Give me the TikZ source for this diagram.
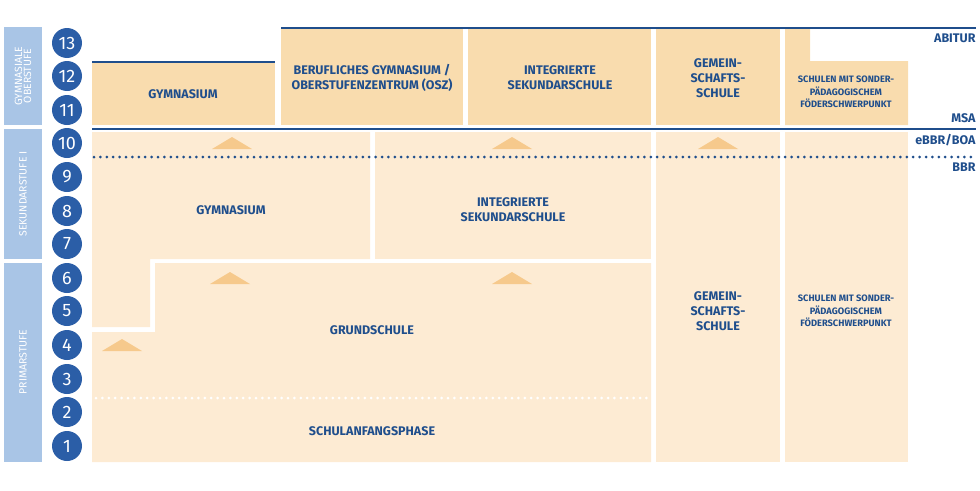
\documentclass[tikz,border=0pt]{standalone}
\usepackage{fontspec}
\setmainfont{Fira Sans}
\definecolor{dblue}{HTML}{1F4E8C}
\definecolor{cblue}{HTML}{2B5EA7}
\definecolor{sblue}{HTML}{A9C5E6}
\definecolor{darkbox}{HTML}{F9DCAE}
\definecolor{lightbox}{HTML}{FDEBD3}
\definecolor{tri}{HTML}{F6C98C}
\begin{document}
\begin{tikzpicture}[x=1pt,y=-1pt,
  lbl/.style={font=\bfseries\fontsize{12.5}{15}\selectfont,text=dblue,align=center},
  slbl/.style={font=\bfseries\fontsize{9.3}{12.5}\selectfont,text=dblue,align=center},
  rlbl/.style={font=\bfseries\fontsize{12.5}{15}\selectfont,text=dblue,anchor=east},
  side/.style={font=\fontsize{10.5}{11}\selectfont,text=white,align=center,rotate=90},
  num/.style={circle,fill=cblue,minimum size=30pt,inner sep=0pt,text=white,font=\fontsize{18}{18}\selectfont},
  trimark/.style={fill=tri},
  bline/.style={dblue,line width=2pt},
  dotline/.style={line width=3pt,line cap=round,dash pattern=on 0pt off 6.4pt}]
\useasboundingbox (0,0) rectangle (980,490);
% sidebar
\fill[sblue] (4,27) rectangle (42,125);
\fill[sblue] (4,129) rectangle (42,259);
\fill[sblue] (4,263) rectangle (42,462);
\node[side] (s1) at (23,76) {GYMNASIALE\\[-2pt]OBERSTUFE};
\node[side] (s2) at (23,194) {SEKUNDARSTUFE I};
\node[side] (s3) at (23,362) {PRIMARSTUFE};
% numbers
\foreach \n/\y in {13/43,12/76,11/110,10/143,9/177,8/211,7/244,6/278,5/311,4/345,3/379,2/412,1/446}
  \node[num] (n\n) at (67,\y) {\n};
% top boxes
\fill[darkbox] (92,62) rectangle (275,125);
\fill[darkbox] (281,29) rectangle (463,125);
\fill[darkbox] (468,29) rectangle (651,125);
\fill[darkbox] (656,29) rectangle (780,125);
\fill[darkbox] (785,29) -- (810,29) -- (810,61) -- (908,61) -- (908,125) -- (785,125) -- cycle;
% lower boxes
\fill[lightbox] (92,132) -- (370,132) -- (370,259) -- (150,259) -- (150,327) -- (92,327) -- cycle;
\fill[lightbox] (375,132) rectangle (651,259);
\fill[lightbox] (155,263) -- (651,263) -- (651,462) -- (92,462) -- (92,332) -- (155,332) -- cycle;
\fill[lightbox] (656,132) rectangle (780,462);
\fill[lightbox] (785,132) rectangle (908,462);
% lines
\coordinate (a1) at (281,28); \coordinate (a2) at (976,28);
\draw[bline] (a1) -- (a2);
\coordinate (g1) at (92,62); \coordinate (g2) at (275,62);
\draw[bline] (g1) -- (g2);
\coordinate (m1) at (92,129); \coordinate (m2) at (976,129);
\draw[bline] (m1) -- (m2);
\coordinate (d1) at (94,157); \coordinate (d2) at (976,157);
\draw[dotline,dblue] (d1) -- (d2);
\coordinate (w1) at (96,398); \coordinate (w2) at (650,398);
\draw[dotline,white] (w1) -- (w2);
% triangles
\foreach \x/\y in {232/143,512/143,718/143,230/278,512/278,122/345}
  \fill[trimark] (\x-20,\y+6) -- (\x,\y-6) -- (\x+20,\y+6) -- cycle;
% labels
\node[lbl] (t1) at (183,94) {GYMNASIUM};
\node[lbl] (t2) at (372,78) {BERUFLICHES GYMNASIUM /\\OBERSTUFENZENTRUM (OSZ)};
\node[lbl] (t3) at (560,78) {INTEGRIERTE\\SEKUNDARSCHULE};
\node[lbl] (t4) at (718,78) {GEMEIN-\\SCHAFTS-\\SCHULE};
\node[slbl] (t5) at (846,92) {SCHULEN MIT SONDER-\\PÄDAGOGISCHEM\\FÖDERSCHWERPUNKT};
\node[lbl] (l1) at (231,210) {GYMNASIUM};
\node[lbl] (l2) at (513,210) {INTEGRIERTE\\SEKUNDARSCHULE};
\node[lbl] (l3) at (372,330) {GRUNDSCHULE};
\node[lbl] (l4) at (372,431) {SCHULANFANGSPHASE};
\node[lbl] (l5) at (718,311) {GEMEIN-\\SCHAFTS-\\SCHULE};
\node[slbl] (l6) at (846,311) {SCHULEN MIT SONDER-\\PÄDAGOGISCHEM\\FÖDERSCHWERPUNKT};
\node[rlbl] (r1) at (979,38) {ABITUR};
\node[rlbl] (r2) at (979,118) {MSA};
\node[rlbl] (r3) at (979,140) {eBBR/BOA};
\node[rlbl] (r4) at (979,167) {BBR};
\end{tikzpicture}
\end{document}
